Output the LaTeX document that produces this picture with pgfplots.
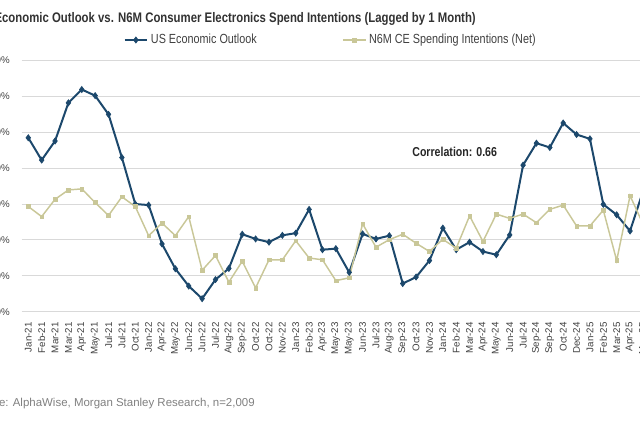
\documentclass[border=0pt]{standalone}
\usepackage{pgfplots}
\usepackage{pgfplotstable}
\pgfplotsset{compat=1.18}
\usepackage{fontspec}
\setmainfont{Liberation Sans}
\newfontfamily\narrow{Liberation Sans}[FakeStretch=0.82]
\definecolor{econ}{RGB}{28,72,108}
\definecolor{ce}{RGB}{201,199,152}
\definecolor{gridc}{RGB}{217,217,217}
\definecolor{txt}{RGB}{64,64,64}

\pgfplotstableread{
i econ ce
0 18.4 -0.7
1 12.2 -3.5
2 17.5 1.3
3 28.1 3.9
4 31.8 4.2
5 30.1 0.4
6 24.9 -3.2
7 12.9 2.0
8 0.0 -0.7
9 -0.3 -8.8
10 -11.1 -5.3
11 -18.0 -8.8
12 -22.8 -3.5
13 -26.3 -18.4
14 -21.0 -14.3
15 -17.9 -21.7
16 -8.4 -15.9
17 -9.7 -23.3
18 -10.6 -15.5
19 -8.7 -15.5
20 -8.1 -10.2
21 -1.5 -15.0
22 -12.7 -15.5
23 -12.4 -21.3
24 -19.0 -20.5
25 -8.3 -5.5
26 -9.7 -12.0
27 -8.8 -9.9
28 -22.1 -8.4
29 -20.3 -10.9
30 -15.7 -13.2
31 -6.7 -9.8
32 -12.7 -12.3
33 -10.6 -3.3
34 -13.2 -10.4
35 -14.1 -2.8
36 -8.6 -4.0
37 10.8 -2.8
38 16.9 -5.2
39 15.7 -1.5
40 22.5 -0.3
41 19.3 -6.1
42 18.1 -6.1
43 -0.1 -1.7
44 -3.0 -15.7
45 -7.5 2.3
46 3.9 -5.8
}\data

\begin{document}
\begin{tikzpicture}
\useasboundingbox (0,0) rectangle (480pt,-320.25pt);
\clip (0,0) rectangle (480pt,-320.25pt);
\node[anchor=base east, font=\narrow\bfseries\fontsize{10.4}{12}\selectfont, text={rgb,255:red,50;green,50;blue,50}, inner sep=0pt]
  at (357pt,-16.9pt) {US Economic Outlook vs. N6M Consumer Electronics Spend Intentions (Lagged by 1 Month)};
\node[anchor=base east, font=\fontsize{8.6}{10}\selectfont, text={rgb,255:red,128;green,128;blue,128}, inner sep=0pt]
  at (191.25pt,-305.25pt) {Source: AlphaWise, Morgan Stanley Research, n=2,009};
\begin{axis}[
  at={(16.2pt,-234pt)}, anchor=south west,
  scale only axis, width=476.4pt, height=189pt,
  xmin=-0.5, xmax=47, ymin=-30, ymax=40,
  axis line style={draw=none},
  ymajorgrids, grid style={gridc, line width=0.75pt},
  major tick length=0pt, tick style={draw=none},
  xtick={0,...,46},
  xticklabels={Jan-21,Feb-21,Mar-21,Mar-21,Apr-21,May-21,Jul-21,Jul-21,Oct-21,Jan-22,Apr-22,May-22,Jun-22,Jun-22,Jul-22,Aug-22,Sep-22,Oct-22,Oct-22,Nov-22,Jan-23,Feb-23,Apr-23,May-23,May-23,Jun-23,Jul-23,Aug-23,Sep-23,Oct-23,Nov-23,Jan-24,Feb-24,Mar-24,Apr-24,May-24,Jun-24,Jul-24,Sep-24,Sep-24,Oct-24,Dec-24,Jan-25,Feb-25,Mar-25,Apr-25,May-25},
  xticklabel style={rotate=90, anchor=east, inner sep=0pt, font=\fontsize{7.3}{8}\selectfont, text=txt},
  xticklabel shift=7.5pt,
  ytick={-30,-20,-10,0,10,20,30,40},
  yticklabels={-30\%,-20\%,-10\%,0\%,10\%,20\%,30\%,40\%},
  yticklabel style={anchor=east, inner sep=0pt, font=\fontsize{7.3}{8}\selectfont, text=txt},
  yticklabel shift=8.7pt,
  legend columns=2,
  legend style={at={(0.487,1.0794)}, anchor=center, draw=none, fill=none,
    font=\narrow\fontsize{9.9}{11}\selectfont, text=txt, inner sep=0pt,
    /tikz/every even column/.append style={column sep=62pt}},
]
\addplot[color=econ, line width=1.5pt, mark=diamond*, mark size=2.3pt, mark options={fill=econ, draw=econ, line width=0.5pt}]
  table[x=i, y=econ] {\data};
\addlegendentry{US Economic Outlook}
\addplot[color=ce, line width=1.1pt, mark=square*, mark size=1.4pt, mark options={fill=ce, draw=ce, line width=0.3pt}]
  table[x=i, y=ce] {\data};
\addlegendentry{N6M CE Spending Intentions (Net)}
\node[anchor=west, font=\narrow\bfseries\fontsize{9.7}{11}\selectfont, text={rgb,255:red,38;green,38;blue,38}, inner sep=0pt]
  at (axis cs:28.7,14.4) {Correlation: 0.66};
\end{axis}
\end{tikzpicture}
\end{document}
